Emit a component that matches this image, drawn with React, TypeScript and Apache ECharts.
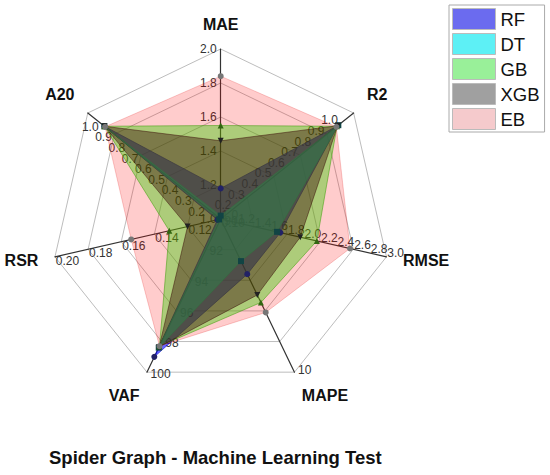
import React, { useEffect, useRef } from 'react';
import * as echarts from 'echarts';

// Axes, counter-clockwise from the top (ECharts radar order)
const indicatorNames = ['MAE', 'A20', 'RSR', 'VAF', 'MAPE', 'RMSE', 'R2'];
const axisMin = [1.0, 0.1, 0.1, 90, 0, 1.0, 0.1];
const axisMax = [2.0, 1.1, 0.2, 100, 10, 3.0, 1.1];
const axisDecimals = [1, 1, 2, 0, 0, 1, 1];
// axes labelled every tenth of the range (others every fifth)
const fineAxes = ['A20', 'RMSE', 'R2'];
// axes that show only their maximum label
const maxOnlyAxes = ['MAPE'];
// axis names nudged up / down
const raisedNames = ['A20', 'R2'];
const loweredNames = ['VAF', 'MAPE'];

const models = ['RF', 'DT', 'GB', 'XGB', 'EB'];
// values in axis order: MAE, A20, RSR, VAF, MAPE, RMSE, R2
const rfValues = [1.18, 0.975, 0.102, 99.0, 3.6, 1.72, 0.98];
const dtValues = [1.02, 0.975, 0.101, 98.4, 2.75, 1.68, 0.985];
const gbValues = [1.55, 0.975, 0.131, 98.3, 5.45, 2.16, 0.975];
const xgbValues = [1.46, 0.975, 0.12, 98.35, 4.96, 1.96, 0.98];
const ebValues = [1.84, 0.97, 0.154, 98.3, 6.1, 2.56, 0.97];
const modelValues = [rfValues, dtValues, gbValues, xgbValues, ebValues];

const fillColors = ['rgba(0,0,255,0.6)', 'rgba(0,255,255,0.6)', 'rgba(0,255,0,0.4)', 'rgba(0,0,0,0.4)', 'rgba(255,0,0,0.2)'];
const lineColors = ['rgba(0,0,200,0.6)', 'rgba(0,200,200,0.6)', 'rgba(0,180,0,0.5)', 'rgba(0,0,0,0.45)', 'rgba(220,0,0,0.2)'];
const legendColors = ['#6b6bef', '#5df0f5', '#99f099', '#a0a0a0', '#f5cacc'];
const markerColors = ['#222266', '#114444', '#336611', '#222222', '#777777'];
const markerSymbols = ['circle', 'rect', 'triangle', 'path://M0,0L10,0L5,10Z', 'circle'];

const titleText = 'Spider Graph - Machine Learning Test';
const fontFamily = '"Liberation Sans", Arial, sans-serif';

const CENTER = [220.7, 219];
const RADIUS = 170;

function labelIndicators(showFn: (name: string) => boolean) {
  return indicatorNames.map((name, i) => ({
    name,
    min: axisMin[i],
    max: axisMax[i],
    axisLabel: {
      show: showFn(name),
      formatter: (v: number) => {
        if (maxOnlyAxes.includes(name)) {
          return Math.abs(v - axisMax[i]) < 1e-9 ? String(axisMax[i]) : '';
        }
        return v.toFixed(axisDecimals[i]);
      },
    },
  }));
}

const hiddenRadarParts = {
  axisName: { show: false },
  splitLine: { show: false },
  splitArea: { show: false },
  axisLine: { show: false },
  axisTick: { show: false },
};

const labelStyle = { color: '#333', fontSize: 12, fontFamily, margin: 4 };
const nameFont = { fontSize: 16, fontWeight: 'bold' as const, color: '#111', fontFamily };

export default function App() {
  const ref = useRef<HTMLDivElement>(null);
  useEffect(() => {
    if (!ref.current) return;
    const chart = echarts.init(ref.current, null, { renderer: 'svg' });
    const option: any = {
      animation: false,
      backgroundColor: '#fff',
      title: {
        text: titleText,
        left: 44,
        top: 443,
        textStyle: { fontSize: 18.5, fontWeight: 'bold', color: '#111', fontFamily },
      },
      legend: {
        orient: 'vertical',
        left: 449,
        top: 5,
        padding: [3, 5, 2, 3],
        itemGap: 3,
        itemWidth: 43,
        itemHeight: 21,
        borderColor: '#aaa',
        borderWidth: 1,
        icon: 'rect',
        selectedMode: false,
        textStyle: { fontSize: 18.5, color: '#111', fontFamily },
        data: models.map((m, i) => ({
          name: m,
          itemStyle: { color: legendColors[i], borderColor: '#bbb', borderWidth: 1, opacity: 1 },
        })),
      },
      radar: [
        {
          center: CENTER,
          radius: RADIUS,
          startAngle: 90,
          splitNumber: 5,
          shape: 'polygon',
          nameGap: 17,
          indicator: indicatorNames.map((name, i) => ({ name, min: axisMin[i], max: axisMax[i] })),
          axisName: {
            ...nameFont,
            formatter: (n: string) =>
              raisedNames.includes(n) ? `{up|${n}}` : loweredNames.includes(n) ? `{down|${n}}` : n,
            rich: {
              up: { ...nameFont, padding: [0, 0, 16, 0] },
              down: { ...nameFont, padding: [16, 0, 0, 0] },
            },
          },
          splitLine: { lineStyle: { color: '#bdbdbd', width: 1 } },
          splitArea: { show: false },
          axisLine: { lineStyle: { color: '#333', width: 1.2 } },
          axisTick: { show: false },
          axisLabel: { show: false },
        },
        {
          center: CENTER,
          radius: RADIUS,
          startAngle: 90,
          splitNumber: 10,
          shape: 'polygon',
          indicator: labelIndicators((n) => fineAxes.includes(n)),
          axisLabel: labelStyle,
          ...hiddenRadarParts,
        },
        {
          center: CENTER,
          radius: RADIUS,
          startAngle: 90,
          splitNumber: 5,
          shape: 'polygon',
          indicator: labelIndicators((n) => !fineAxes.includes(n)),
          axisLabel: labelStyle,
          ...hiddenRadarParts,
        },
      ],
      series: models.map((m, i) => ({
        type: 'radar',
        name: m,
        radarIndex: 0,
        symbol: markerSymbols[i],
        symbolSize: 6,
        lineStyle: { width: 1, color: lineColors[i] },
        areaStyle: { color: fillColors[i], opacity: 1 },
        itemStyle: { color: markerColors[i] },
        data: [{ name: m, value: modelValues[i] }],
      })),
    };
    chart.setOption(option);
    return () => chart.dispose();
  }, []);
  return (
    <div
      ref={ref}
      style={{ position: 'fixed', left: 0, top: 0, width: 550, height: 475 }}
    />
  );
}
